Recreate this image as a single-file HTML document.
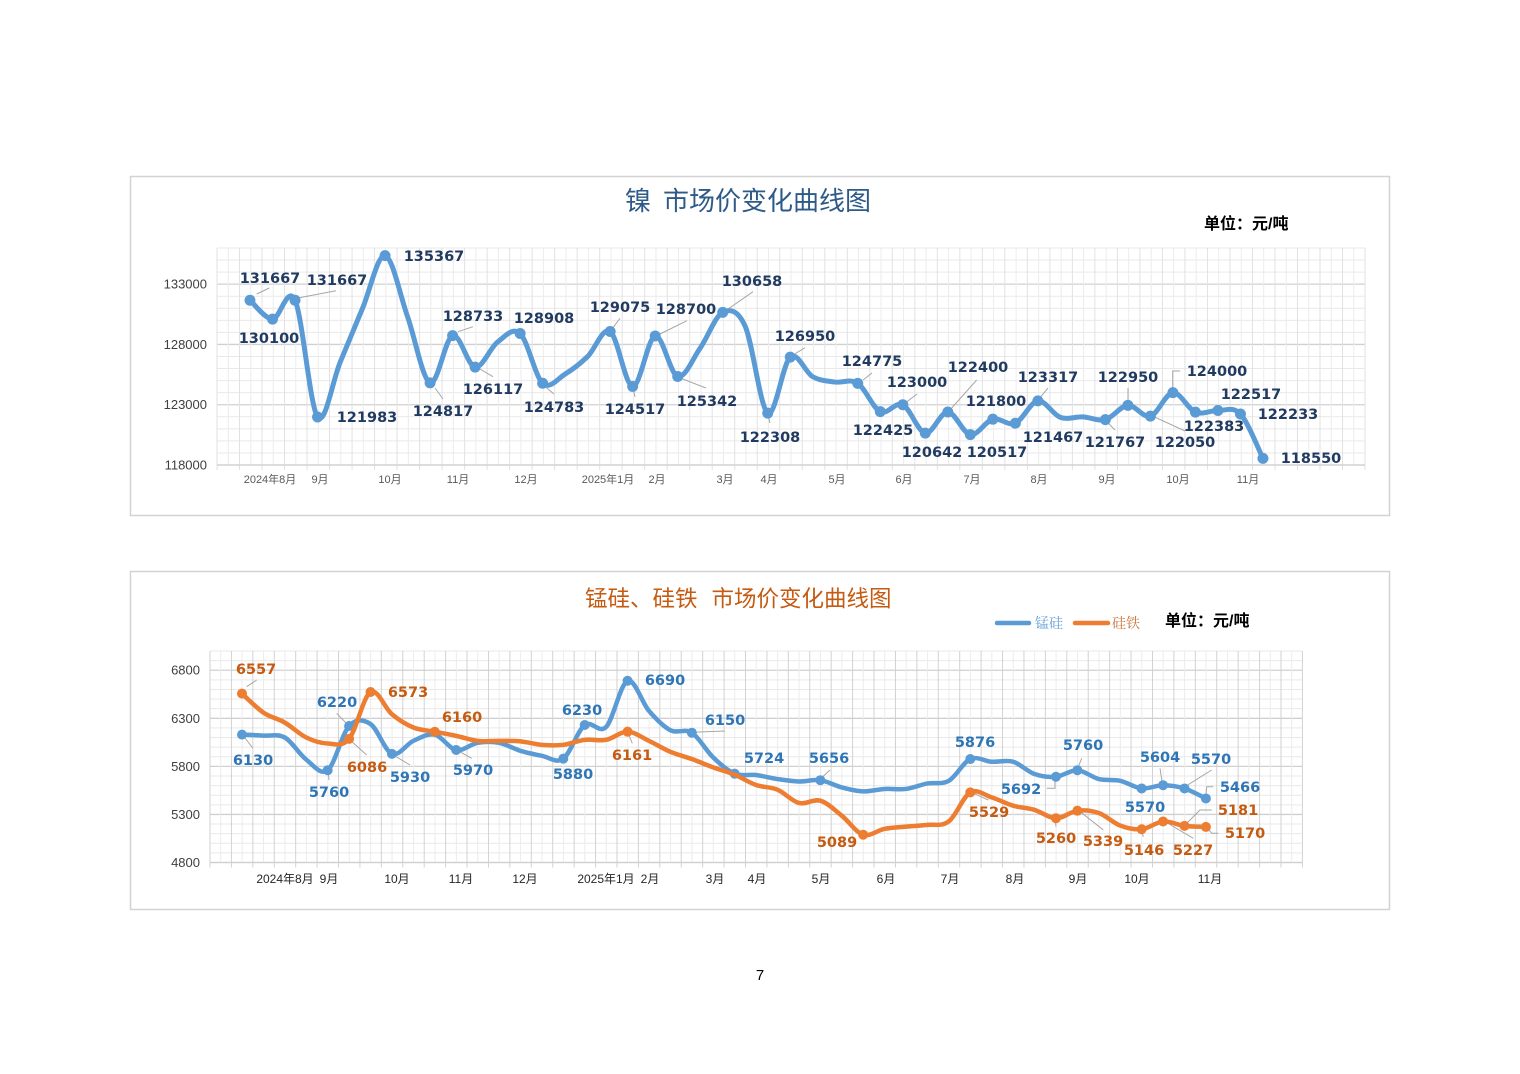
<!DOCTYPE html>
<html><head><meta charset="utf-8">
<style>
html,body{margin:0;padding:0;background:#fff;}
svg{display:block;}
.yl{font-family:"Liberation Sans",sans-serif;font-size:13px;fill:#404040;text-anchor:end;}
.xl{font-family:"Liberation Sans","Noto Sans CJK SC",sans-serif;font-size:11px;fill:#595959;text-anchor:middle;}
.xl2{font-family:"Liberation Sans","Noto Sans CJK SC",sans-serif;font-size:12px;fill:#262626;text-anchor:middle;}
.dl{font-family:"DejaVu Sans","Liberation Sans",sans-serif;font-weight:bold;font-size:14.5px;text-anchor:middle;}
.t1{fill:#203A60;}
.tb{fill:#2E75B6;}
.to{fill:#C55A11;}
.ttl{font-family:"Liberation Sans","Noto Sans CJK SC",sans-serif;}
.unit{font-family:"Liberation Sans","Noto Sans CJK SC",sans-serif;font-weight:bold;font-size:16px;fill:#000;}
.ld{stroke:#a6a6a6;stroke-width:1;fill:none;}
</style></head>
<body>
<svg width="1520" height="1074" viewBox="0 0 1520 1074" xmlns="http://www.w3.org/2000/svg">
<rect width="1520" height="1074" fill="#fff"/>
<!-- frames -->
<rect x="130.5" y="176.5" width="1259" height="339" fill="#fff" stroke="#d3d3d3" stroke-width="1.5"/>
<rect x="130.5" y="571.5" width="1259" height="338" fill="#fff" stroke="#d3d3d3" stroke-width="1.5"/>

<g id="grid1"></g>
<g id="grid2"></g>

<!-- top titles -->
<text class="ttl" x="625" y="210" font-size="26" fill="#2E5A87">镍</text>
<text class="ttl" x="663" y="210" font-size="26" fill="#2E5A87">市场价变化曲线图</text>
<text class="unit" x="1204" y="229">单位：元/吨</text>

<!-- top y labels -->
<text class="yl" x="207" y="288.6">133000</text>
<text class="yl" x="207" y="348.9">128000</text>
<text class="yl" x="207" y="409.2">123000</text>
<text class="yl" x="207" y="469.5">118000</text>

<!-- top x labels -->
<g class="xl">
<text x="270" y="483">2024年8月</text>
<text x="320" y="483">9月</text>
<text x="390" y="483">10月</text>
<text x="458" y="483">11月</text>
<text x="526" y="483">12月</text>
<text x="608" y="483">2025年1月</text>
<text x="657" y="483">2月</text>
<text x="725" y="483">3月</text>
<text x="769" y="483">4月</text>
<text x="837" y="483">5月</text>
<text x="904" y="483">6月</text>
<text x="972" y="483">7月</text>
<text x="1039" y="483">8月</text>
<text x="1107" y="483">9月</text>
<text x="1178" y="483">10月</text>
<text x="1248" y="483">11月</text>
</g>

<!-- top leaders -->
<g class="ld">
<path d="M256.7,294 L269.3,288"/>
<path d="M296.7,298.3 L336,290.7"/>
<path d="M435,388 L443,399"/>
<path d="M458,331.7 L473,326.7"/>
<path d="M480,369 L493,376.7"/>
<path d="M546.7,388 L554,394"/>
<path d="M613,327.7 L620,318.3"/>
<path d="M633,388 L635,397"/>
<path d="M660,334 L687,320.7"/>
<path d="M680,378 L706,388"/>
<path d="M726.7,310 L753,291.7"/>
<path d="M768,415 L770,423"/>
<path d="M793,355 L805,347.7"/>
<path d="M863,380 L872,373"/>
<path d="M907,401.7 L917,394"/>
<path d="M951.7,408 L976.7,380"/>
<path d="M1040,397.7 L1048,388"/>
<path d="M1106.7,421.7 L1115,430"/>
<path d="M1128,403 L1128,388"/>
<path d="M1172.7,388 L1172.7,371 L1180,371"/>
<path d="M1151.7,415.7 L1185,431"/>
</g>

<g id="series1"></g>

<!-- top data labels -->
<g class="dl t1">
<text x="270" y="283">131667</text>
<text x="337" y="285">131667</text>
<text x="269" y="343">130100</text>
<text x="367" y="422">121983</text>
<text x="434" y="261">135367</text>
<text x="443" y="416">124817</text>
<text x="473" y="321">128733</text>
<text x="493" y="394">126117</text>
<text x="544" y="323">128908</text>
<text x="554" y="412">124783</text>
<text x="620" y="312">129075</text>
<text x="635" y="414">124517</text>
<text x="686" y="314">128700</text>
<text x="707" y="406">125342</text>
<text x="752" y="286">130658</text>
<text x="770" y="442">122308</text>
<text x="805" y="341">126950</text>
<text x="872" y="366">124775</text>
<text x="917" y="387">123000</text>
<text x="883" y="435">122425</text>
<text x="932" y="457">120642</text>
<text x="978" y="372">122400</text>
<text x="996" y="406">121800</text>
<text x="997" y="457">120517</text>
<text x="1048" y="382">123317</text>
<text x="1053" y="442">121467</text>
<text x="1115" y="447">121767</text>
<text x="1128" y="382">122950</text>
<text x="1185" y="447">122050</text>
<text x="1217" y="376">124000</text>
<text x="1214" y="431">122383</text>
<text x="1251" y="399">122517</text>
<text x="1288" y="419">122233</text>
<text x="1311" y="463">118550</text>
</g>

<!-- bottom titles -->
<text class="ttl" x="585" y="606.5" font-size="22.5" fill="#C55A11">锰硅、硅铁</text>
<text class="ttl" x="711.5" y="606.5" font-size="22.5" fill="#C55A11">市场价变化曲线图</text>
<line x1="997" y1="623" x2="1029" y2="623" stroke="#5B9BD5" stroke-width="4.5" stroke-linecap="round"/>
<text x="1035" y="628" font-family="'Liberation Serif','Noto Serif CJK SC',serif" font-size="14" fill="#5B9BD5">锰硅</text>
<line x1="1075" y1="623" x2="1108" y2="623" stroke="#ED7D31" stroke-width="4.5" stroke-linecap="round"/>
<text x="1112" y="628" font-family="'Liberation Serif','Noto Serif CJK SC',serif" font-size="14" fill="#C87137">硅铁</text>
<text class="unit" x="1165" y="626">单位：元/吨</text>

<!-- bottom y labels -->
<text class="yl" x="200" y="674.7">6800</text>
<text class="yl" x="200" y="722.8">6300</text>
<text class="yl" x="200" y="770.9">5800</text>
<text class="yl" x="200" y="818.9">5300</text>
<text class="yl" x="200" y="867">4800</text>

<!-- bottom x labels -->
<g class="xl2">
<text x="285" y="883">2024年8月</text>
<text x="329" y="883">9月</text>
<text x="397" y="883">10月</text>
<text x="461" y="883">11月</text>
<text x="525" y="883">12月</text>
<text x="606" y="883">2025年1月</text>
<text x="650" y="883">2月</text>
<text x="715" y="883">3月</text>
<text x="757" y="883">4月</text>
<text x="821" y="883">5月</text>
<text x="886" y="883">6月</text>
<text x="950" y="883">7月</text>
<text x="1015" y="883">8月</text>
<text x="1078" y="883">9月</text>
<text x="1137" y="883">10月</text>
<text x="1210" y="883">11月</text>
</g>

<!-- bottom leaders -->
<g class="ld">
<path d="M246.7,686.7 L256.7,680"/>
<path d="M245,738 L252.7,748"/>
<path d="M328.3,773 L329,780"/>
<path d="M336.7,713.3 L348,725"/>
<path d="M350,740 L366.7,755"/>
<path d="M393.3,755 L410,765"/>
<path d="M456.7,750 L471.7,758.3"/>
<path d="M627.7,732.3 L632.3,743.3"/>
<path d="M691.7,732.3 L725,731"/>
<path d="M820,779.3 L830,770"/>
<path d="M970,791.7 L988.3,800"/>
<path d="M1055,776.7 L1055,788.3 L1046.7,788.3"/>
<path d="M1077.3,769.3 L1081.7,758.3"/>
<path d="M1162.3,783.3 L1160,768.3"/>
<path d="M1185,786.7 L1211.7,770"/>
<path d="M1205.7,796.7 L1206.7,786.7 L1213.3,786.7"/>
<path d="M1055,816.7 L1056,826.7"/>
<path d="M1077.3,809.3 L1103.3,830"/>
<path d="M1141,827.3 L1143.3,836.7"/>
<path d="M1162.3,820 L1193.3,838.3"/>
<path d="M1185,825 L1200,810 L1211.7,810"/>
<path d="M1205.7,826 L1211.7,833.3 L1218.3,833.3"/>
</g>

<g id="series2"></g>

<!-- bottom data labels blue -->
<g class="dl tb">
<text x="253" y="765">6130</text>
<text x="329" y="797">5760</text>
<text x="337" y="707">6220</text>
<text x="410" y="782">5930</text>
<text x="473" y="775">5970</text>
<text x="573" y="779">5880</text>
<text x="582" y="715">6230</text>
<text x="665" y="685">6690</text>
<text x="725" y="725">6150</text>
<text x="764" y="763">5724</text>
<text x="829" y="763">5656</text>
<text x="975" y="747">5876</text>
<text x="1021" y="794">5692</text>
<text x="1083" y="750">5760</text>
<text x="1160" y="762">5604</text>
<text x="1211" y="764">5570</text>
<text x="1240" y="792">5466</text>
<text x="1145" y="812">5570</text>
</g>
<!-- bottom data labels orange -->
<g class="dl to">
<text x="256" y="674">6557</text>
<text x="367" y="772">6086</text>
<text x="408" y="697">6573</text>
<text x="462" y="722">6160</text>
<text x="632" y="760">6161</text>
<text x="837" y="847">5089</text>
<text x="989" y="817">5529</text>
<text x="1056" y="843">5260</text>
<text x="1103" y="846">5339</text>
<text x="1144" y="855">5146</text>
<text x="1193" y="855">5227</text>
<text x="1238" y="815">5181</text>
<text x="1245" y="838">5170</text>
</g>

<text x="760" y="980" font-family="'Liberation Sans',sans-serif" font-size="15" fill="#000" text-anchor="middle">7</text>
</svg>
<script>
(function(){
var NS="http://www.w3.org/2000/svg";
function el(tag,attrs,parent){var e=document.createElementNS(NS,tag);for(var k in attrs)e.setAttribute(k,attrs[k]);parent.appendChild(e);return e;}
function grid(g,x0,cw,ncat,ybot,ytop,hstep,nh,vcol,hcol){
  var i,x,y;
  for(i=0;i<=nh;i++){
    y=ybot-i*hstep;
    var major=(i%5===0);
    el('line',{x1:x0,x2:x0+cw*ncat,y1:y,y2:y,stroke:major?'#d0d0d0':hcol,'stroke-width':major?1.3:1},g);
  }
  for(i=0;i<=ncat;i++){
    x=x0+i*cw;
    el('line',{x1:x,x2:x,y1:ytop,y2:ybot+5,stroke:vcol,'stroke-width':1},g);
    if(i<ncat){x=x0+(i+0.5)*cw;el('line',{x1:x,x2:x,y1:ytop,y2:ybot,stroke:'#ececec','stroke-width':1},g);}
  }
  el('line',{x1:x0,x2:x0+cw*ncat,y1:ybot,y2:ybot,stroke:'#d0d0d0','stroke-width':1.2},g);
}
function smooth(p){
  var d='M'+p[0][0].toFixed(2)+','+p[0][1].toFixed(2);
  for(var i=0;i<p.length-1;i++){
    var p0=p[i-1]||p[i],p1=p[i],p2=p[i+1],p3=p[i+2]||p[i+1],t=1/6;
    d+=' C'+(p1[0]+(p2[0]-p0[0])*t).toFixed(2)+','+(p1[1]+(p2[1]-p0[1])*t).toFixed(2)+' '+(p2[0]-(p3[0]-p1[0])*t).toFixed(2)+','+(p2[1]-(p3[1]-p1[1])*t).toFixed(2)+' '+p2[0].toFixed(2)+','+p2[1].toFixed(2);
  }
  return d;
}
function series(g,vals,marks,xf,yf,color,w,r){
  var pts=vals.map(function(v,i){return [xf(i),yf(v)];});
  el('path',{d:smooth(pts),fill:'none',stroke:color,'stroke-width':w,'stroke-linejoin':'round','stroke-linecap':'round'},g);
  marks.forEach(function(i){el('circle',{cx:pts[i][0],cy:pts[i][1],r:r,fill:color},g);});
}
grid(document.getElementById('grid1'),217,22.51,51,465,248,12.056,18,'#e2e2e2','#e9e9e9');
grid(document.getElementById('grid2'),210,21.42,51,862.5,651,9.614,22,'#d2d2d2','#e9e9e9');

var nickel=[131667,130100,131667,121983,126500,131000,135367,130300,124817,128733,126117,128200,128908,124783,125545,127000,129075,124517,128700,125342,127700,130658,129500,122308,126950,125320,124880,124775,122425,123000,120642,122400,120517,121800,121467,123317,121950,121990,121767,122950,122050,124000,122383,122517,122233,118550];
var nm=[0,1,2,3,6,8,9,10,12,13,16,17,18,19,21,23,24,27,28,29,30,31,32,33,34,35,38,39,40,41,42,43,44,45];
series(document.getElementById('series1'),nickel,nm,function(i){return 250+22.51*i;},function(v){return 465-(v-118000)*0.012056;},'#5B9BD5',5,5.5);

var mn=[6130,6120,6100,5870,5760,6220,6240,5930,6065,6130,5970,6045,6045,5962,5910,5880,6230,6210,6690,6377,6176,6150,5892,5724,5710,5668,5643,5656,5581,5540,5565,5565,5622,5650,5876,5848,5848,5720,5692,5760,5668,5650,5570,5604,5570,5466];
var mnm=[0,4,5,7,10,15,16,18,21,23,27,34,38,39,42,43,44,45];
var fe=[6557,6359,6255,6100,6038,6086,6573,6342,6204,6160,6117,6065,6065,6060,6024,6024,6076,6076,6161,6065,5951,5876,5789,5713,5606,5557,5419,5443,5287,5089,5150,5173,5191,5228,5529,5477,5391,5347,5260,5339,5315,5184,5146,5227,5181,5170];
var fem=[0,5,6,9,18,29,34,38,39,42,43,44,45];
var g2=document.getElementById('series2');
var xf2=function(i){return 242+21.42*i;}, yf2=function(v){return 862.5-(v-4800)*0.09614;};
series(g2,mn,mnm,xf2,yf2,'#5B9BD5',4.5,5);
series(g2,fe,fem,xf2,yf2,'#ED7D31',4.5,5);
})();
</script>
</body></html>
